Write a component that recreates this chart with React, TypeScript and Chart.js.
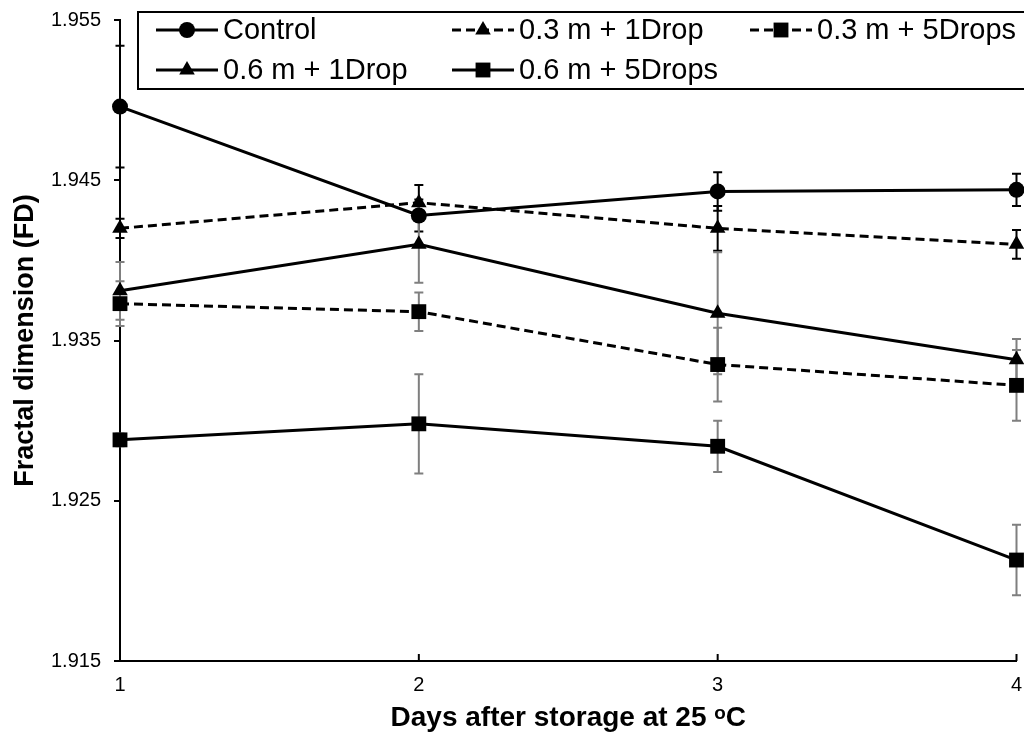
import React, { useEffect, useRef } from 'react';
import { Chart, registerables } from 'chart.js';

Chart.register(...registerables);

// ---- data ----
const days = [1, 2, 3, 4];
const xTickValues = [1, 2, 3, 4];
const yTickValues = [1.915, 1.925, 1.935, 1.945, 1.955];

const seriesNames = ['Control', '0.3 m + 1Drop', '0.3 m + 5Drops', '0.6 m + 1Drop', '0.6 m + 5Drops'];

const control = [1.9496, 1.9428, 1.9443, 1.9444];
const controlErr = [0.0038, 0.001, 0.0012, 0.001];

const m03d1 = [1.942, 1.9436, 1.942, 1.941];
const m03d1Err = [0.0006, 0.0011, 0.0014, 0.0009];

const m03d5 = [1.9373, 1.9368, 1.9335, 1.9322];
const m03d5Err = [0.0014, 0.0012, 0.0023, 0.0022];

const m06d1 = [1.9381, 1.941, 1.9367, 1.9338];
const m06d1Err = [0.0018, 0.0024, 0.0038, 0.0013];

const m06d5 = [1.9288, 1.9298, 1.9284, 1.9213];
const m06d5Err = [0.0004, 0.0031, 0.0016, 0.0022];

const xTitle = 'Days after storage at 25 ᵒC';
const yTitle = 'Fractal dimension (FD)';

// ---- styles ----
const FONT = '"Liberation Sans", Arial, Helvetica, sans-serif';
const BLACK = '#000000';
const GREY = '#7f7f7f';

type Style = { dash: number[]; point: string; radius: number; err: string };
const styles: Style[] = [
  { dash: [], point: 'circle', radius: 8, err: BLACK },
  { dash: [9, 5], point: 'triangle', radius: 9, err: BLACK },
  { dash: [9, 5], point: 'rect', radius: 10.5, err: GREY },
  { dash: [], point: 'triangle', radius: 9, err: GREY },
  { dash: [], point: 'rect', radius: 10.5, err: GREY },
];

const seriesValues = [control, m03d1, m03d5, m06d1, m06d5];
const seriesErrors = [controlErr, m03d1Err, m03d5Err, m06d1Err, m06d5Err];

const errorBarPlugin = {
  id: 'errorBars',
  beforeDatasetsDraw(chart: any) {
    const ctx = chart.ctx;
    const yScale = chart.scales.y;
    chart.data.datasets.forEach((ds: any, di: number) => {
      const meta = chart.getDatasetMeta(di);
      ctx.save();
      ctx.strokeStyle = ds.errColor;
      ctx.lineWidth = 2;
      ctx.setLineDash([]);
      meta.data.forEach((pt: any, i: number) => {
        const v = ds.data[i].y;
        const e = ds.errors[i];
        const yTop = yScale.getPixelForValue(v + e);
        const yBot = yScale.getPixelForValue(v - e);
        const x = pt.x;
        ctx.beginPath();
        ctx.moveTo(x, yTop);
        ctx.lineTo(x, yBot);
        ctx.moveTo(x - 4.5, yTop);
        ctx.lineTo(x + 4.5, yTop);
        ctx.moveTo(x - 4.5, yBot);
        ctx.lineTo(x + 4.5, yBot);
        ctx.stroke();
      });
      ctx.restore();
    });
  },
};

const innerXTicksPlugin = {
  id: 'innerXTicks',
  afterDraw(chart: any) {
    const ctx = chart.ctx;
    const xs = chart.scales.x;
    const bottom = chart.chartArea.bottom;
    ctx.save();
    ctx.strokeStyle = BLACK;
    ctx.lineWidth = 2;
    xTickValues.forEach((v) => {
      const x = xs.getPixelForValue(v);
      ctx.beginPath();
      ctx.moveTo(x, bottom);
      ctx.lineTo(x, bottom - 7);
      ctx.stroke();
    });
    ctx.restore();
  },
};

function drawMarker(ctx: CanvasRenderingContext2D, st: Style, x: number, y: number) {
  ctx.beginPath();
  const r = st.radius;
  if (st.point === 'circle') {
    ctx.arc(x, y, r, 0, Math.PI * 2);
  } else if (st.point === 'triangle') {
    const w = r * Math.sin((2 * Math.PI) / 3);
    ctx.moveTo(x, y - r);
    ctx.lineTo(x + w, y + r * 0.5);
    ctx.lineTo(x - w, y + r * 0.5);
    ctx.closePath();
  } else {
    const s = Math.SQRT1_2 * r;
    ctx.rect(x - s, y - s, 2 * s, 2 * s);
  }
  ctx.fill();
}

const legendPlugin = {
  id: 'boxLegend',
  afterDraw(chart: any) {
    const ctx: CanvasRenderingContext2D = chart.ctx;
    ctx.save();
    ctx.fillStyle = '#ffffff';
    ctx.fillRect(138, 12, 900, 77);
    ctx.strokeStyle = BLACK;
    ctx.lineWidth = 2;
    ctx.strokeRect(138, 12, 900, 77);

    const positions = [
      [156, 30],
      [452, 30],
      [750, 30],
      [156, 70],
      [452, 70],
    ];
    seriesNames.forEach((name, i) => {
      const [x0, y] = positions[i];
      const st = styles[i];
      ctx.strokeStyle = BLACK;
      ctx.lineWidth = 3;
      ctx.setLineDash(st.dash);
      ctx.beginPath();
      ctx.moveTo(x0, y);
      ctx.lineTo(x0 + 62, y);
      ctx.stroke();
      ctx.setLineDash([]);
      ctx.fillStyle = BLACK;
      drawMarker(ctx, st, x0 + 31, y);
      ctx.fillStyle = BLACK;
      ctx.font = `29px ${FONT}`;
      ctx.textBaseline = 'middle';
      ctx.textAlign = 'left';
      ctx.fillText(name, x0 + 67, y + 1);
    });
    ctx.restore();
  },
};

export default function App() {
  const canvasRef = useRef<HTMLCanvasElement | null>(null);

  useEffect(() => {
    if (!canvasRef.current) return;
    Chart.defaults.font.family = FONT;
    Chart.defaults.color = BLACK;

    const datasets = seriesNames.map((name, i) => ({
      label: name,
      data: days.map((d, j) => ({ x: d, y: seriesValues[i][j] })),
      errors: seriesErrors[i],
      errColor: styles[i].err,
      borderColor: BLACK,
      backgroundColor: BLACK,
      borderWidth: 3,
      borderDash: styles[i].dash,
      pointStyle: styles[i].point,
      pointRadius: styles[i].radius,
      pointHoverRadius: styles[i].radius,
      pointBackgroundColor: BLACK,
      pointBorderColor: BLACK,
      pointBorderWidth: 0,
      tension: 0,
      fill: false,
      clip: false as any,
    }));

    const chart = new Chart(canvasRef.current, {
      type: 'line',
      data: { datasets: datasets as any },
      options: {
        animation: false,
        responsive: true,
        maintainAspectRatio: false,
        layout: { padding: { top: 20, right: 5, left: 0, bottom: 0 } },
        plugins: {
          legend: { display: false },
          tooltip: { enabled: false },
        },
        scales: {
          x: {
            type: 'linear',
            min: 1,
            max: 4,
            afterBuildTicks: (scale: any) => {
              scale.ticks = xTickValues.map((v) => ({ value: v }));
            },
            afterFit: (scale: any) => {
              scale.height = 77;
              scale.paddingLeft = 0;
              scale.paddingRight = 0;
            },
            grid: { display: true, drawOnChartArea: false, drawTicks: false, color: BLACK, lineWidth: 0 },
            border: { display: true, color: BLACK, width: 2 },
            ticks: {
              font: { size: 20 },
              color: BLACK,
              padding: 12,
              maxRotation: 0,
              callback: (v: any) => String(v),
            },
            title: {
              display: true,
              text: xTitle,
              font: { size: 28, weight: 'bold' },
              color: BLACK,
              padding: { top: 0, bottom: 3 },
            },
          },
          y: {
            type: 'linear',
            min: 1.915,
            max: 1.955,
            afterBuildTicks: (scale: any) => {
              scale.ticks = yTickValues.map((v) => ({ value: v }));
            },
            afterFit: (scale: any) => {
              scale.width = 120;
              scale.paddingTop = 0;
              scale.paddingBottom = 0;
            },
            grid: { display: true, drawOnChartArea: false, drawTicks: true, tickLength: 6, color: BLACK, lineWidth: 2 },
            border: { display: true, color: BLACK, width: 2 },
            ticks: {
              font: { size: 20 },
              color: BLACK,
              padding: 13,
              callback: (v: any) => Number(v).toFixed(3),
            },
            title: {
              display: true,
              text: yTitle,
              font: { size: 27, weight: 'bold' },
              color: BLACK,
              padding: { top: 9, bottom: 0 },
            },
          },
        },
      },
      plugins: [errorBarPlugin, innerXTicksPlugin, legendPlugin],
    });

    return () => chart.destroy();
  }, []);

  return (
    <div style={{ position: 'fixed', left: 0, top: 0, width: 1027, height: 738, background: '#fff' }}>
      <canvas ref={canvasRef} />
    </div>
  );
}
